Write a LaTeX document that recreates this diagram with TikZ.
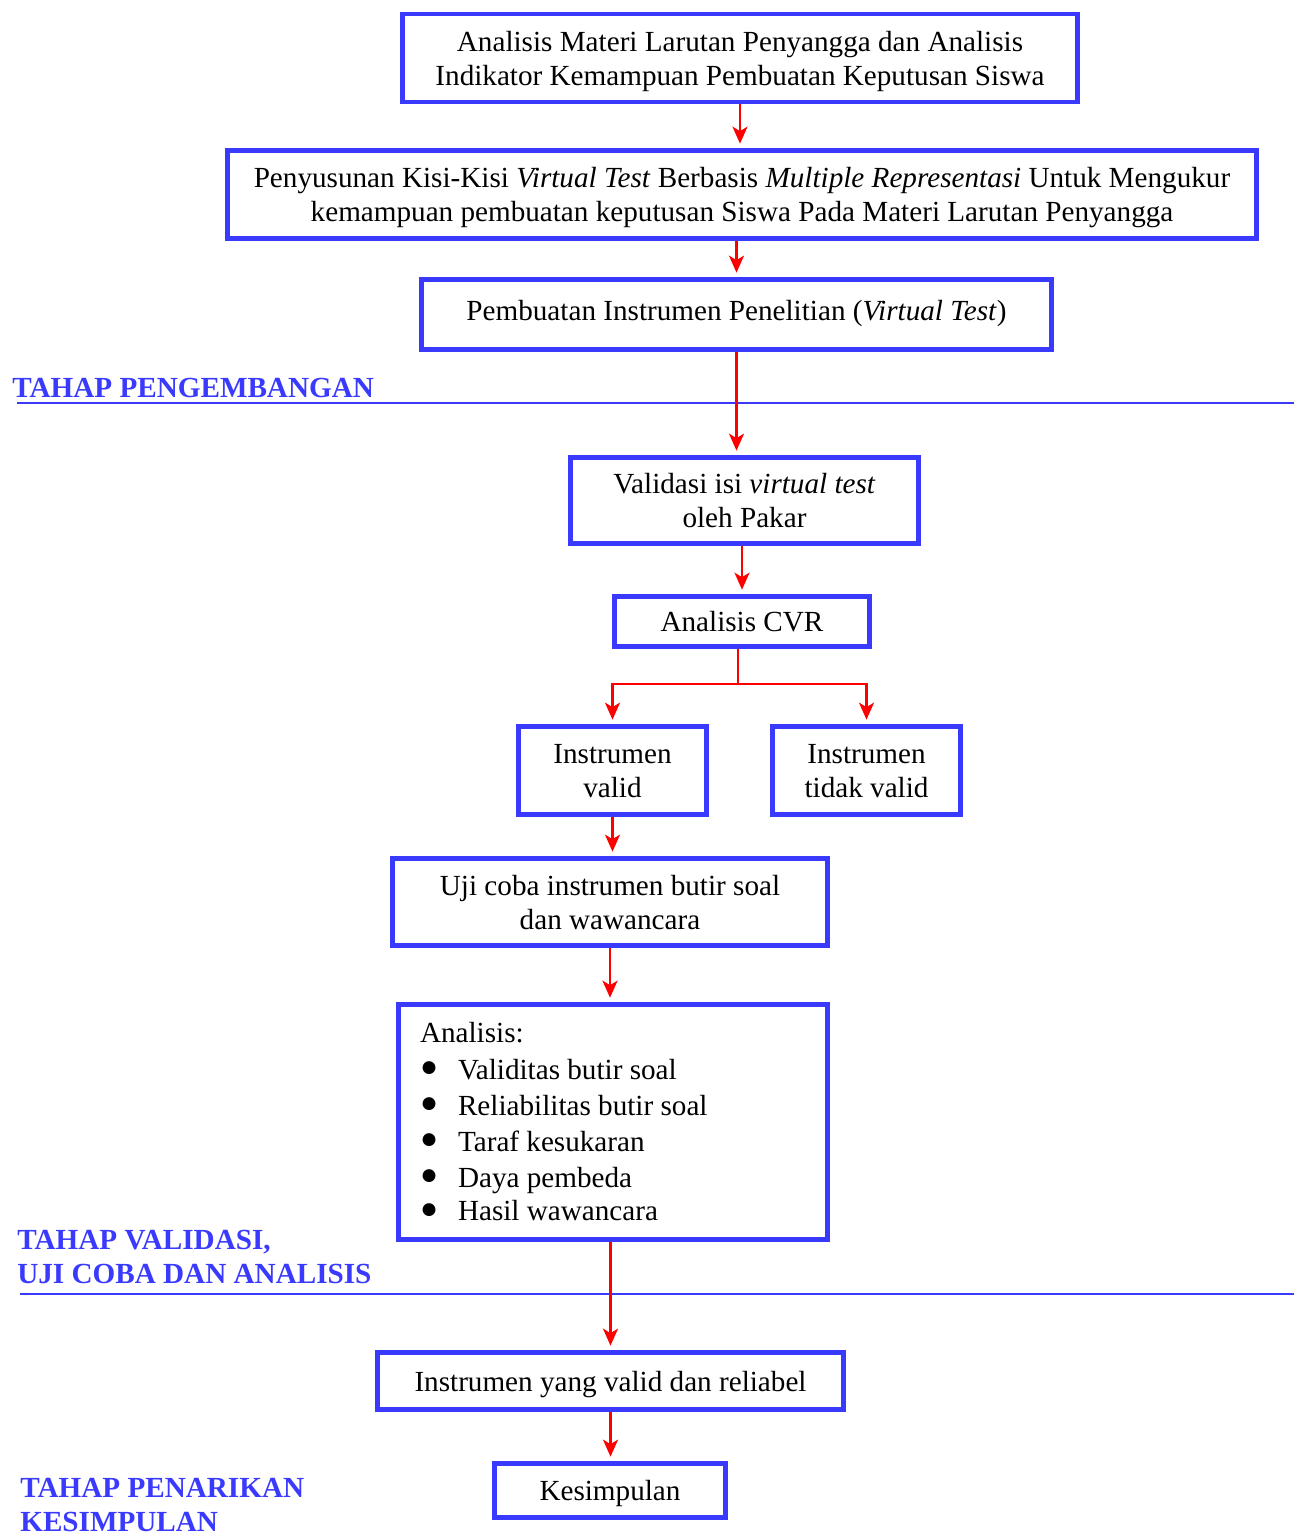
\documentclass[tikz,border=0pt]{standalone}
\usepackage{fontspec}
\setmainfont{Liberation Serif}
\usetikzlibrary{arrows.meta,positioning}
\definecolor{boxblue}{RGB}{58,58,255}
\definecolor{arrred}{RGB}{255,0,0}
\newcommand{\blt}{\makebox[0.76cm][l]{\raisebox{1.6pt}[0pt][0pt]{\fontsize{17}{17}\selectfont ●}}}

\begin{document}
\begin{tikzpicture}[x=0.02cm, y=-0.02cm,
    every node/.style={font=\fontsize{16.6}{19.3}\selectfont},
    bx/.style={rectangle, draw=boxblue, line width=2.8pt, align=center, inner sep=2pt, text depth=0pt},
    e/.style={draw=arrred, line width=1.4pt, shorten >=2.5pt, -{Stealth[length=3.4mm, width=3mm, inset=0.9mm]}},
    ln/.style={draw=arrred, line width=1.4pt},
    tahap/.style={text=boxblue, font=\fontsize{16.6}{19.3}\selectfont\bfseries, align=left, inner sep=0pt},
    sec/.style={draw=boxblue, line width=1pt},
  ]
  \useasboundingbox (0,0) rectangle (1294,1537);
  \node[bx, minimum width=13.52cm, minimum height=1.76cm] (analisis) at (740,58) {Analisis Materi Larutan Penyangga dan Analisis\\Indikator Kemampuan Pembuatan Keputusan Siswa};
  \node[bx, minimum width=20.58cm, minimum height=1.76cm] (kisi) at (742,194.5) {Penyusunan Kisi-Kisi \textit{Virtual Test} Berbasis \textit{Multiple Representasi} Untuk Mengukur\\kemampuan pembuatan keputusan Siswa Pada Materi Larutan Penyangga};
  \node[bx, minimum width=12.6cm, minimum height=1.4cm, text depth=0.5em] (instrumen) at (736.5,314.5) {Pembuatan Instrumen Penelitian (\textit{Virtual Test})};
  \node[bx, minimum width=6.96cm, minimum height=1.72cm] (validasi) at (744.5,500.5) {Validasi isi \textit{virtual test}\\oleh Pakar};
  \node[bx, minimum width=5.1cm, minimum height=1cm] (cvr) at (742,621.5) {Analisis CVR};
  \node[bx, minimum width=3.76cm, minimum height=1.76cm] (valid) at (612.5,770.5) {Instrumen\\valid};
  \node[bx, minimum width=3.76cm, minimum height=1.76cm] (tdkvalid) at (866.5,770.5) {Instrumen\\tidak valid};
  \node[bx, minimum width=8.7cm, minimum height=1.74cm] (ujicoba) at (610,902) {Uji coba instrumen butir soal\\dan wawancara};
  \node[bx, minimum height=4.7cm, align=flush left, text width=7.72cm, inner xsep=0.43cm, text depth=] (hasil) at (613,1122) {\fontsize{16.6}{20.5}\selectfont
    Analisis:\\
    \blt Validitas butir soal\\
    \blt Reliabilitas butir soal\\
    \blt Taraf kesukaran\\
    \blt Daya pembeda\\
    \blt Hasil wawancara};
  \node[bx, minimum width=9.32cm, minimum height=1.14cm] (reliabel) at (610.5,1381) {Instrumen yang valid dan reliabel};
  \node[bx, minimum width=4.62cm, minimum height=1.08cm] (kesimpulan) at (610,1490.5) {Kesimpulan};
  \node[tahap, anchor=base west] (tpeng) at (12,397) {TAHAP PENGEMBANGAN};
  \node[tahap, anchor=west] (tval) at (17,1257) {TAHAP VALIDASI,\\UJI COBA DAN ANALISIS};
  \node[tahap, anchor=west] (tsimp) at (20,1505) {TAHAP PENARIKAN\\KESIMPULAN};
  \draw[sec] (17,403) -- (1294,403);
  \draw[sec] (20,1294) -- (1294,1294);
  \draw[e] (analisis.south) -- (analisis.south |- kisi.north);
  \draw[e] (instrumen.north |- kisi.south) -- (instrumen.north);
  \draw[e] (instrumen.south) -- (instrumen.south |- validasi.north);
  \draw[e] (cvr.north |- validasi.south) -- (cvr.north);
  \draw[ln] ([xshift=-0.08cm]cvr.south) -- ++(0,35) coordinate (fork);
  \draw[e] (fork) -| (valid.north);
  \draw[e] (fork) -| (tdkvalid.north);
  \draw[e] (valid.south) -- (valid.south |- ujicoba.north);
  \draw[e] (ujicoba.south) -- (ujicoba.south |- hasil.north);
  \draw[e] (reliabel.north |- hasil.south) -- (reliabel.north);
  \draw[e] (reliabel.south) -- (reliabel.south |- kesimpulan.north);
\end{tikzpicture}
\end{document}
